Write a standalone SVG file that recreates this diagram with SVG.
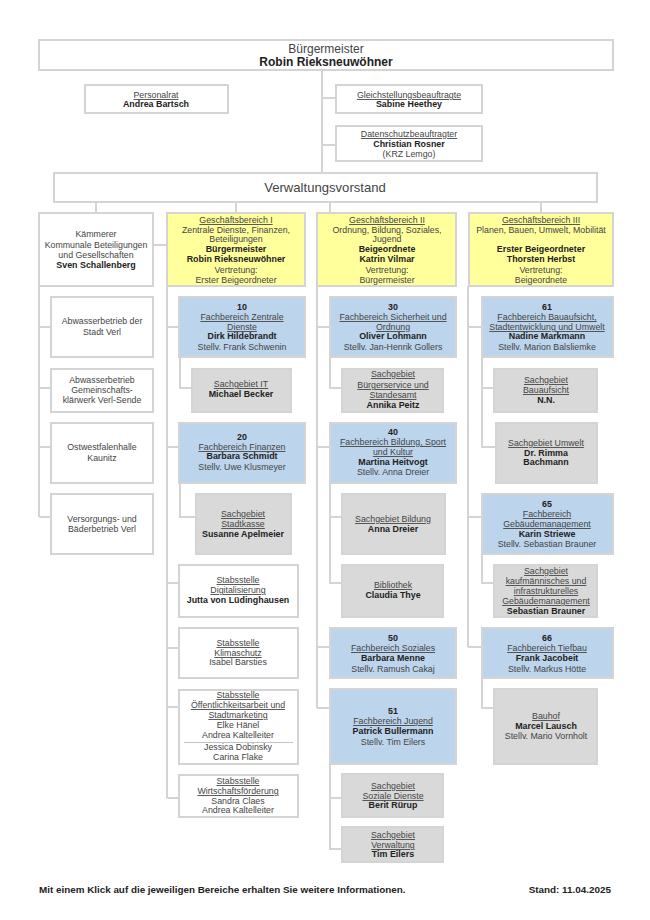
<svg xmlns="http://www.w3.org/2000/svg" width="650" height="920" viewBox="0 0 650 920">
<style>
text{font-family:"Liberation Sans",Arial,sans-serif;font-size:8.800px;text-anchor:middle;fill:#444}
.b{font-weight:700;fill:#222;font-size:8.900px}
.u{text-decoration:underline}
.w{fill:#fff}.y{fill:#ffff9c}.l{fill:#bcd4ec}.g{fill:#d9d9d9}
rect{stroke:#d4d4d4;stroke-width:2}
#connectors path{fill:none;stroke:#d4d4d4;stroke-width:2}
</style>
<rect width="650" height="920" fill="#fff" style="stroke:none"/>
<g id="connectors">
<path d="M322 70V173M322 98H336M322 145H336"/>
<path d="M96 202V213M236 202V213M330 202V213M541 202V213M153 245H167"/>
<path d="M39 286V517M39 327H51M39 388H51M39 447H51M39 517H51"/>
<path d="M167 286V798M167 327H179M167 447H179M167 583H179M167 648H179M167 707H179M167 798H179"/>
<path d="M180 357V388H192M180 483V517H196"/>
<path d="M317 286V708M317 327H330M317 447H330M317 647H330M317 708H330"/>
<path d="M330 357V388H342M330 483V583H342M330 517H342M330 764V849H342M330 798H342"/>
<path d="M468 286V647M468 327H482M468 517H482M468 647H482"/>
<path d="M482 357V447H496M482 388H494M482 554V583H494M482 678V708H494"/>
</g>
<g id="buergermeister"><rect class="w" x="39" y="40" width="574" height="30"/><text x="326" y="53" style="font-size:12px">Bürgermeister</text><text class="b" x="326" y="66" style="font-size:12px">Robin Rieksneuwöhner</text></g>
<g id="personalrat"><rect class="w" x="85" y="85" width="143" height="28"/><text class="u" x="156" y="98">Personalrat</text><text class="b" x="156" y="107">Andrea Bartsch</text></g>
<g id="gleichstellung"><rect class="w" x="336" y="85" width="146" height="28"/><text class="u" x="409" y="98">Gleichstellungsbeauftragte</text><text class="b" x="409" y="107">Sabine Heethey</text></g>
<g id="datenschutz"><rect class="w" x="336" y="126" width="146" height="35"/><text class="u" x="409" y="137">Datenschutzbeauftragter</text><text class="b" x="409" y="147">Christian Rosner</text><text x="409" y="157">(KRZ Lemgo)</text></g>
<g id="vorstand"><rect class="w" x="54" y="173" width="543" height="29"/><text x="325" y="192" style="font-size:13.100px">Verwaltungsvorstand</text></g>
<g id="kaemmerer"><rect class="w" x="39" y="213" width="114" height="73"/><text x="96" y="237">Kämmerer</text><text x="96" y="248">Kommunale Beteiligungen</text><text x="96" y="258">und Gesellschaften</text><text class="b" x="96" y="268">Sven Schallenberg</text></g>
<g id="gb1"><rect class="y" x="167" y="213" width="138" height="73"/><text class="u" x="236" y="223">Geschäftsbereich I</text><text x="236" y="233">Zentrale Dienste, Finanzen,</text><text x="236" y="242">Beteiligungen</text><text class="b" x="236" y="252">Bürgermeister</text><text class="b" x="236" y="262">Robin Rieksneuwöhner</text><text x="236" y="273">Vertretung:</text><text x="236" y="283">Erster Beigeordneter</text></g>
<g id="gb2"><rect class="y" x="317" y="213" width="139" height="73"/><text class="u" x="387" y="223">Geschäftsbereich II</text><text x="387" y="233">Ordnung, Bildung, Soziales,</text><text x="387" y="242">Jugend</text><text class="b" x="387" y="252">Beigeordnete</text><text class="b" x="387" y="262">Katrin Vilmar</text><text x="387" y="273">Vertretung:</text><text x="387" y="283">Bürgermeister</text></g>
<g id="gb3"><rect class="y" x="469" y="213" width="144" height="73"/><text class="u" x="541" y="223">Geschäftsbereich III</text><text x="541" y="233">Planen, Bauen, Umwelt, Mobilität</text><text class="b" x="541" y="252">Erster Beigeordneter</text><text class="b" x="541" y="262">Thorsten Herbst</text><text x="541" y="273">Vertretung:</text><text x="541" y="283">Beigeordnete</text></g>
<g id="abw1"><rect class="w" x="51" y="297" width="102" height="60"/><text x="102" y="324">Abwasserbetrieb der</text><text x="102" y="335">Stadt Verl</text></g>
<g id="abw2"><rect class="w" x="51" y="369" width="102" height="43"/><text x="102" y="383">Abwasserbetrieb</text><text x="102" y="393">Gemeinschafts-</text><text x="102" y="403">klärwerk Verl-Sende</text></g>
<g id="halle"><rect class="w" x="51" y="423" width="102" height="60"/><text x="102" y="450">Ostwestfalenhalle</text><text x="102" y="461">Kaunitz</text></g>
<g id="versorgung"><rect class="w" x="51" y="494" width="102" height="60"/><text x="102" y="522">Versorgungs- und</text><text x="102" y="532">Bäderbetrieb Verl</text></g>
<g id="fb10"><rect class="l" x="179" y="297" width="126" height="60"/><text class="b" x="242" y="310">10</text><text class="u" x="242" y="320">Fachbereich Zentrale</text><text class="u" x="242" y="330">Dienste</text><text class="b" x="242" y="339">Dirk Hildebrandt</text><text x="242" y="350">Stellv. Frank Schwenin</text></g>
<g id="sg-it"><rect class="g" x="192" y="369" width="99" height="43"/><text class="u" x="241" y="387">Sachgebiet IT</text><text class="b" x="241" y="397">Michael Becker</text></g>
<g id="fb20"><rect class="l" x="179" y="423" width="126" height="60"/><text class="b" x="242" y="440">20</text><text class="u" x="242" y="450">Fachbereich Finanzen</text><text class="b" x="242" y="459">Barbara Schmidt</text><text x="242" y="470">Stellv. Uwe Klusmeyer</text></g>
<g id="sg-kasse"><rect class="g" x="196" y="494" width="95" height="60"/><text class="u" x="243" y="517">Sachgebiet</text><text class="u" x="243" y="527">Stadtkasse</text><text class="b" x="243" y="537">Susanne Apelmeier</text></g>
<g id="st-digital"><rect class="w" x="179" y="565" width="119" height="52"/><text class="u" x="238" y="583">Stabsstelle</text><text class="u" x="238" y="593">Digitalisierung</text><text class="b" x="238" y="603">Jutta von Lüdinghausen</text></g>
<g id="st-klima"><rect class="w" x="179" y="628" width="119" height="50"/><text class="u" x="238" y="646">Stabsstelle</text><text class="u" x="238" y="656">Klimaschutz</text><text x="238" y="665">Isabel Barsties</text></g>
<g id="st-oeff"><rect class="w" x="179" y="690" width="119" height="74"/><text class="u" x="238" y="698">Stabsstelle</text><text class="u" x="238" y="708">Öffentlichkeitsarbeit und</text><text class="u" x="238" y="718">Stadtmarketing</text><text x="238" y="728">Elke Hänel</text><text x="238" y="738">Andrea Kaltelleiter</text><path d="M184 742.500H293" stroke="#999" stroke-width="0.600" fill="none"/><text x="238" y="750">Jessica Dobinsky</text><text x="238" y="760">Carina Flake</text></g>
<g id="st-wirt"><rect class="w" x="179" y="775" width="119" height="42"/><text class="u" x="238" y="784">Stabsstelle</text><text class="u" x="238" y="794">Wirtschaftsförderung</text><text x="238" y="804">Sandra Claes</text><text x="238" y="813">Andrea Kaltelleiter</text></g>
<g id="fb30"><rect class="l" x="330" y="297" width="126" height="60"/><text class="b" x="393" y="310">30</text><text class="u" x="393" y="320">Fachbereich Sicherheit und</text><text class="u" x="393" y="330">Ordnung</text><text class="b" x="393" y="339">Oliver Lohmann</text><text x="393" y="350">Stellv. Jan-Henrik Gollers</text></g>
<g id="sg-buerger"><rect class="g" x="342" y="369" width="101" height="43"/><text class="u" x="393" y="377">Sachgebiet</text><text class="u" x="393" y="388">Bürgerservice und</text><text class="u" x="393" y="398">Standesamt</text><text class="b" x="393" y="408">Annika Peitz</text></g>
<g id="fb40"><rect class="l" x="330" y="423" width="126" height="60"/><text class="b" x="393" y="435">40</text><text class="u" x="393" y="445">Fachbereich Bildung, Sport</text><text class="u" x="393" y="455">und Kultur</text><text class="b" x="393" y="465">Martina Heitvogt</text><text x="393" y="475">Stellv. Anna Dreier</text></g>
<g id="sg-bildung"><rect class="g" x="342" y="494" width="103" height="60"/><text class="u" x="393" y="522">Sachgebiet Bildung</text><text class="b" x="393" y="532">Anna Dreier</text></g>
<g id="bibliothek"><rect class="g" x="342" y="565" width="101" height="52"/><text class="u" x="393" y="588">Bibliothek</text><text class="b" x="393" y="598">Claudia Thye</text></g>
<g id="fb50"><rect class="l" x="330" y="628" width="126" height="50"/><text class="b" x="393" y="641">50</text><text class="u" x="393" y="651">Fachbereich Soziales</text><text class="b" x="393" y="661">Barbara Menne</text><text x="393" y="672">Stellv. Ramush Cakaj</text></g>
<g id="fb51"><rect class="l" x="330" y="689" width="126" height="75"/><text class="b" x="393" y="714">51</text><text class="u" x="393" y="724">Fachbereich Jugend</text><text class="b" x="393" y="734">Patrick Bullermann</text><text x="393" y="745">Stellv. Tim Eilers</text></g>
<g id="sg-soziale"><rect class="g" x="342" y="774" width="101" height="43"/><text class="u" x="393" y="789">Sachgebiet</text><text class="u" x="393" y="799">Soziale Dienste</text><text class="b" x="393" y="808">Berit Rürup</text></g>
<g id="sg-verwaltung"><rect class="g" x="342" y="827" width="101" height="35"/><text class="u" x="393" y="838">Sachgebiet</text><text class="u" x="393" y="848">Verwaltung</text><text class="b" x="393" y="857">Tim Eilers</text></g>
<g id="fb61"><rect class="l" x="482" y="297" width="131" height="60"/><text class="b" x="547" y="310">61</text><text class="u" x="547" y="320">Fachbereich Bauaufsicht,</text><text class="u" x="547" y="330">Stadtentwicklung und Umwelt</text><text class="b" x="547" y="339">Nadine Markmann</text><text x="547" y="350">Stellv. Marion Balsliemke</text></g>
<g id="sg-bauaufsicht"><rect class="g" x="494" y="369" width="103" height="43"/><text class="u" x="546" y="383">Sachgebiet</text><text class="u" x="546" y="393">Bauaufsicht</text><text class="b" x="546" y="403">N.N.</text></g>
<g id="sg-umwelt"><rect class="g" x="496" y="423" width="101" height="60"/><text class="u" x="546" y="446">Sachgebiet Umwelt</text><text class="b" x="546" y="456">Dr. Rimma</text><text class="b" x="546" y="465">Bachmann</text></g>
<g id="fb65"><rect class="l" x="482" y="494" width="131" height="60"/><text class="b" x="547" y="507">65</text><text class="u" x="547" y="517">Fachbereich</text><text class="u" x="547" y="527">Gebäudemanagement</text><text class="b" x="547" y="537">Karin Striewe</text><text x="547" y="547">Stellv. Sebastian Brauner</text></g>
<g id="sg-kaufm"><rect class="g" x="494" y="565" width="103" height="52"/><text class="u" x="546" y="574">Sachgebiet</text><text class="u" x="546" y="584">kaufmännisches und</text><text class="u" x="546" y="594">infrastrukturelles</text><text class="u" x="546" y="604">Gebäudemanagement</text><text class="b" x="546" y="614">Sebastian Brauner</text></g>
<g id="fb66"><rect class="l" x="482" y="628" width="131" height="50"/><text class="b" x="547" y="641">66</text><text class="u" x="547" y="651">Fachbereich Tiefbau</text><text class="b" x="547" y="661">Frank Jacobeit</text><text x="547" y="672">Stellv. Markus Hötte</text></g>
<g id="bauhof"><rect class="g" x="494" y="689" width="103" height="75"/><text class="u" x="546" y="719">Bauhof</text><text class="b" x="546" y="729">Marcel Lausch</text><text x="546" y="739">Stellv. Mario Vornholt</text></g>
<text class="b" x="39" y="893" style="text-anchor:start;font-size:9.850px">Mit einem Klick auf die jeweiligen Bereiche erhalten Sie weitere Informationen.</text>
<text class="b" x="611" y="893" style="text-anchor:end;font-size:9.900px">Stand: 11.04.2025</text>
</svg>
